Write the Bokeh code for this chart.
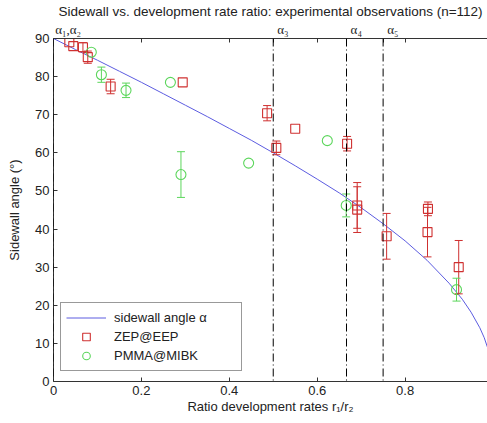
from bokeh.plotting import figure
from bokeh.models import (ColumnDataSource, Whisker, TeeHead, Span, LinearAxis,
                          FixedTicker, Legend, LegendItem, Range1d)
from bokeh.embed import file_html
from bokeh.resources import INLINE

# ---- data ----
curve_x = [0.0, 0.05, 0.10, 0.15, 0.20, 0.25, 0.30, 0.35, 0.40, 0.45, 0.50, 0.55, 0.60,
           0.65, 0.70, 0.75, 0.80, 0.85, 0.90, 0.93, 0.95, 0.97, 0.98, 0.99]
curve_y = [90.0, 87.1, 84.3, 81.4, 78.5, 75.5, 72.5, 69.5, 66.4, 63.3, 60.0, 56.6, 53.1,
           49.5, 45.6, 41.4, 36.9, 31.8, 25.8, 21.6, 18.2, 14.1, 11.5, 8.1]

zep_x = [0.036, 0.045, 0.067, 0.078, 0.130, 0.294, 0.486, 0.507, 0.550, 0.668,
         0.691, 0.691, 0.758, 0.852, 0.851, 0.922]
zep_y = [89.0, 88.0, 87.7, 85.1, 77.4, 78.5, 70.4, 61.3, 66.3, 62.4,
         46.2, 45.1, 38.1, 45.3, 39.2, 30.0]
zep_err = [0, 0, 1.2, 1.6, 1.9, 0, 2.0, 1.8, 0, 1.9,
           6.0, 6.0, 6.0, 1.8, 6.5, 7.0]

pmma_x = [0.086, 0.109, 0.165, 0.266, 0.290, 0.444, 0.623, 0.666, 0.917]
pmma_y = [86.4, 80.5, 76.4, 78.5, 54.3, 57.3, 63.2, 46.2, 24.1]
pmma_err = [0, 2.0, 1.9, 0, 6.0, 0, 0, 3.0, 3.0]

alpha_x = [0.0, 0.5, 0.6667, 0.75]
alpha_labels = ["α₁,α₂", "α₃", "α₄", "α₅"]

x_ticks = [0, 0.2, 0.4, 0.6, 0.8]
x_tick_labels = ["0", "0.2", "0.4", "0.6", "0.8"]
y_ticks = [0, 10, 20, 30, 40, 50, 60, 70, 80, 90]

title_text = "Sidewall vs. development rate ratio: experimental observations (n=112)"
x_label = "Ratio development rates r₁/r₂"
y_label = "Sidewall angle (°)"

RED = "#cf3030"
GREEN = "#5cd65c"
BLUE = "#5c5ce0"
FONT = "Liberation Sans"
TXT = "#222222"
NB = "\u00a0"

p = figure(width=487, height=423, output_backend="svg", toolbar_location=None,
           x_range=Range1d(0, 0.9875), y_range=Range1d(0, 90),
           min_border_left=53, min_border_right=0, min_border_top=38, min_border_bottom=42)
p.outline_line_color = None
p.xgrid.visible = False
p.ygrid.visible = False

p.title.text = title_text
p.title.align = "center"
p.title.text_font = FONT
p.title.text_font_size = "13.5px"
p.title.text_font_style = "normal"
p.title.text_color = TXT
p.title.standoff = 0
p.title.offset = 0

for ax in (p.xaxis[0], p.yaxis[0]):
    ax.major_tick_in = 4
    ax.major_tick_out = 0
    ax.minor_tick_line_color = None
    ax.axis_line_color = "#333333"
    ax.major_tick_line_color = "#333333"
    ax.major_label_text_font = FONT
    ax.major_label_text_font_size = "13px"
    ax.major_label_text_color = TXT
    ax.axis_label_text_font = FONT
    ax.axis_label_text_font_size = "13px"
    ax.axis_label_text_font_style = "normal"
    ax.axis_label_text_color = TXT

p.xaxis[0].ticker = FixedTicker(ticks=x_ticks)
p.xaxis[0].major_label_overrides = {t: l for t, l in zip(x_ticks, x_tick_labels)}
p.xaxis[0].axis_label = x_label
p.xaxis[0].major_label_standoff = 4
p.xaxis[0].axis_label_standoff = 1
p.yaxis[0].ticker = FixedTicker(ticks=y_ticks)
p.yaxis[0].axis_label = y_label
p.yaxis[0].major_label_standoff = 4
p.yaxis[0].axis_label_standoff = 10

# top axis: tick marks at x ticks, alpha labels just right of the alpha lines
pads = [9, 6, 6, 6]
top_ticks = sorted(set(x_ticks + alpha_x))
top_over = {t: "" for t in top_ticks}
top_over.update({a: NB * n + l for a, l, n in zip(alpha_x, alpha_labels, pads)})
top = LinearAxis(ticker=FixedTicker(ticks=top_ticks), major_tick_in=4, major_tick_out=0,
                 minor_tick_line_color=None, major_label_overrides=top_over,
                 major_label_text_font="Liberation Serif", major_label_text_font_size="13px",
                 major_label_text_color=TXT, major_label_standoff=2,
                 axis_line_color="#333333", major_tick_line_color="#333333")
p.add_layout(top, "above")

# curve
r_line = p.line(curve_x, curve_y, line_color=BLUE, line_width=1)

# alpha lines
for ax_ in alpha_x:
    p.add_layout(Span(location=ax_, dimension="height", line_color="black",
                      line_dash="8 3 1 3", line_width=1))

# error bars
def whisk(xs, ys, es, color):
    idx = [i for i, e in enumerate(es) if e > 0]
    src = ColumnDataSource(dict(x=[xs[i] for i in idx],
                                lo=[ys[i] - es[i] for i in idx],
                                hi=[ys[i] + es[i] for i in idx]))
    w = Whisker(base="x", lower="lo", upper="hi", source=src, line_color=color, line_width=1,
                upper_head=TeeHead(size=8, line_color=color, line_width=1),
                lower_head=TeeHead(size=8, line_color=color, line_width=1))
    w.level = "glyph"
    p.add_layout(w)

whisk(zep_x, zep_y, zep_err, RED)
whisk(pmma_x, pmma_y, pmma_err, GREEN)

r_zep = p.scatter(zep_x, zep_y, marker="square", size=9, line_color=RED, fill_color=None,
                  line_width=1.1)
r_pm = p.scatter(pmma_x, pmma_y, marker="circle", size=10, line_color=GREEN, fill_color=None,
                 line_width=1.1)

legend = Legend(items=[LegendItem(label="sidewall angle α", renderers=[r_line]),
                       LegendItem(label="ZEP@EEP", renderers=[r_zep]),
                       LegendItem(label="PMMA@MIBK", renderers=[r_pm])],
                location=(7, 10), padding=5, spacing=0, glyph_width=40, glyph_height=19,
                label_height=19, label_width=122, label_standoff=8, margin=0,
                border_line_color="#333333", border_line_width=1,
                label_text_font=FONT, label_text_font_size="13px", label_text_color=TXT,
                background_fill_alpha=1.0)
p.add_layout(legend, "center")

open("out.html", "w").write(file_html(p, INLINE))
